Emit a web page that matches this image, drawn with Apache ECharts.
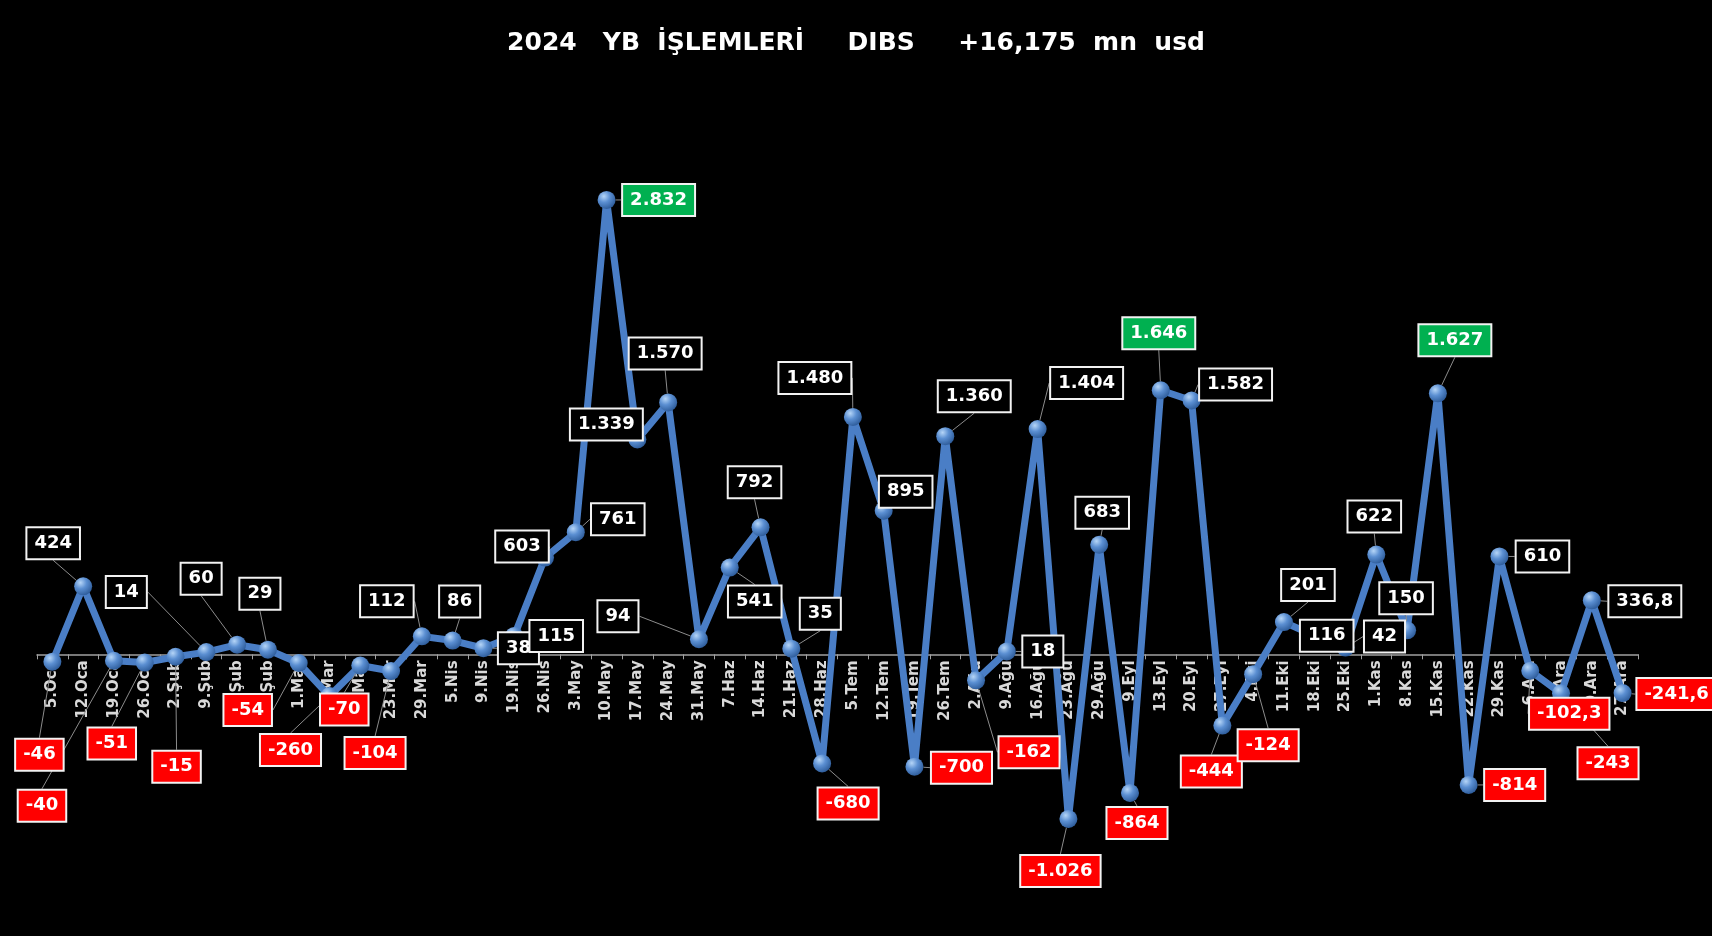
<!DOCTYPE html>
<html>
<head>
<meta charset="utf-8">
<title>2024 YB İşlemleri DIBS</title>
<script src="https://cdn.jsdelivr.net/npm/echarts@6/dist/echarts.min.js"></script>
<style>
  html, body { margin: 0; padding: 0; background: #000; }
  #dibs { width: 1712px; height: 936px; }
</style>
</head>
<body>
<div id="dibs"></div>
<script>
// haftalar
var weeks = ['5.Oca', '12.Oca', '19.Oca', '26.Oca', '2.Şub', '9.Şub', '16.Şub', '23.Şub',
	'1.Mar', '8.Mar', '15.Mar', '23.Mar', '29.Mar', '5.Nis', '9.Nis', '19.Nis', '26.Nis',
	'3.May', '10.May', '17.May', '24.May', '31.May', '7.Haz', '14.Haz', '21.Haz', '28.Haz',
	'5.Tem', '12.Tem', '19.Tem', '26.Tem', '2.Ağu', '9.Ağu', '16.Ağu', '23.Ağu', '29.Ağu',
	'9.Eyl', '13.Eyl', '20.Eyl', '27.Eyl', '4.Eki', '11.Eki', '18.Eki', '25.Eki',
	'1.Kas', '8.Kas', '15.Kas', '22.Kas', '29.Kas', '6.Ara', '13.Ara', '20.Ara', '27.Ara'];

// yabancı DIBS işlemleri, mn usd
var flows = [-46, 424, -40, -51, -15, 14, 60, 29,
	-54, -260, -70, -104, 112, 86, 38, 115, 603,
	761, 2832, 1339, 1570, 94, 541, 792, 35, -680,
	1480, 895, -700, 1360, -162, 18, 1404, -1026, 683,
	-864, 1646, 1582, -444, -124, 201, 116, 42,
	622, 150, 1627, -814, 610, -102.3, -243, 336.8, -241.6];

// etiket kaydırmaları (nokta merkezine göre dx, dy)
var labelShift = [[-13, 93], [-30, -43], [-72, 145], [-33, 81], [1, 110], [-80, -60], [-36, -66], [-8, -56],
	[-51, 47], [-39, 54], [-16, 44], [-16, 82], [-35, -35], [7, -39], [35, 0], [42, 0], [-23, -11],
	[42, -13], [52, 0], [-31, -15], [-3, -49], [-81, -23], [25, 34], [-6, -45], [29, -35], [26, 40],
	[-38, -39], [22, -19], [47, 1], [29, -40], [53, 72], [36, 0], [49, -46], [-8, 52], [3, -32],
	[7, 30], [-2, -57], [44, -16], [-11, 46], [15, 71], [24, -37], [12, 0], [39, -11],
	[-2, -38], [-1, -32], [17, -53], [46, 0], [43, 0], [39, 43], [47, 70], [53, 1], [54, 1]];

var yMin = -1500, yMax = 3000;

function trNum(v) {
	var neg = v < 0;
	var parts = Math.abs(v).toString().split('.');
	var intPart = parts[0].replace(/\B(?=(\d{3})+(?!\d))/g, '.');
	return (neg ? '-' : '') + intPart + (parts[1] ? ',' + parts[1] : '');
}

function boxColor(v) {
	if (v >= 1600) return '#00b050';
	if (v < 0) return '#ff0000';
	return '#000000';
}

var gridTop = 173, gridBottom = 41;
var plotH = 936 - gridTop - gridBottom;
// kategori ekseni sıfır çizgisine taşınır
var zeroOffset = -plotH * (0 - yMin) / (yMax - yMin);

var myChart = echarts.init(document.getElementById('dibs'));

option = {
	backgroundColor: '#000',
	title: {
		text: '2024   YB  İŞLEMLERİ     DIBS     +16,175  mn  usd',
		left: 'center',
		top: 26,
		textStyle: {
			color: '#fff',
			fontFamily: 'DejaVu Sans',
			fontWeight: 'bold',
			fontSize: 25
		}
	},
	grid: {
		left: 37,
		right: 74,
		top: gridTop,
		bottom: gridBottom,
		outerBoundsMode: 'none',
		containLabel: false
	},
	xAxis: {
		type: 'category',
		data: weeks,
		boundaryGap: true,
		position: 'bottom',
		offset: zeroOffset,
		axisLine: {
			onZero: false,
			lineStyle: { color: '#a0a0a0', width: 1.5 }
		},
		axisTick: {
			show: true,
			length: 5,
			lineStyle: { color: '#a0a0a0' }
		},
		axisLabel: {
			interval: 0,
			rotate: 90,
			margin: 6,
			color: '#d9d9d9',
			fontFamily: 'DejaVu Sans',
			fontWeight: 'bold',
			fontSize: 15
		}
	},
	yAxis: {
		type: 'value',
		min: yMin,
		max: yMax,
		interval: 500,
		show: false,
		splitLine: { show: false }
	},
	series: [{
		name: 'DIBS',
		type: 'line',
		data: flows.map(function (v) {
			return {
				value: v,
				label: { backgroundColor: boxColor(v) }
			};
		}),
		symbol: 'circle',
		symbolSize: 18,
		lineStyle: {
			color: '#4a7ec6',
			width: 7
		},
		itemStyle: {
			color: new echarts.graphic.RadialGradient(0.35, 0.3, 0.75, [
				{ offset: 0, color: '#b5d5f7' },
				{ offset: 0.45, color: '#5b8fd2' },
				{ offset: 1, color: '#2c5a98' }
			]),
			borderWidth: 0
		},
		label: {
			show: true,
			position: 'inside',
			formatter: function (p) { return trNum(p.value); },
			color: '#fff',
			fontFamily: 'DejaVu Sans',
			fontWeight: 'bold',
			fontSize: 18,
			lineHeight: 20,
			padding: [5, 7],
			borderColor: '#f2f2f2',
			borderWidth: 2
		},
		labelLine: {
			show: true,
			lineStyle: { color: '#8c8c8c', width: 1 }
		},
		labelLayout: function (p) {
			var s = labelShift[p.dataIndex];
			return { dx: s[0], dy: s[1] };
		},
		animation: false
	}]
};

myChart.setOption(option);
</script>
</body>
</html>
